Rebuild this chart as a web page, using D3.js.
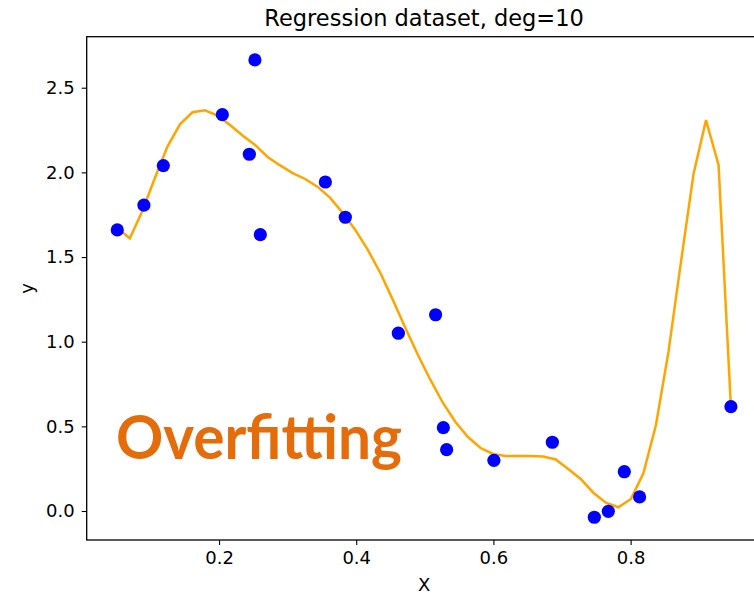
<!DOCTYPE html>
<html>
<head>
<meta charset="utf-8">
<script src="https://cdn.jsdelivr.net/npm/d3@7/dist/d3.min.js"></script>
<style>
  html, body { margin: 0; padding: 0; background: #fff; overflow: hidden; }
  svg { display: block; font-family: "DejaVu Sans", sans-serif; }
</style>
</head>
<body>
<svg id="chart" width="754" height="596"></svg>
<script>
// Sample points of the regression dataset
const pointX = [0.0517, 0.0905, 0.1188, 0.2048, 0.2523, 0.2442, 0.2602, 0.3550, 0.3841, 0.4614,
                0.5157, 0.5270, 0.5318, 0.6007, 0.6859, 0.7471, 0.7675, 0.7908, 0.8131, 0.9462];
const pointY = [1.660, 1.807, 2.040, 2.341, 2.664, 2.107, 1.632, 1.943, 1.735, 1.050,
                1.159, 0.492, 0.362, 0.299, 0.406, -0.037, -0.002, 0.232, 0.083, 0.616];

// Degree-10 polynomial fit, evaluated on a grid across the data range
const fitX = [0.0517, 0.0700, 0.0882, 0.1065, 0.1248, 0.1430, 0.1613, 0.1795, 0.1978, 0.2161,
              0.2343, 0.2526, 0.2708, 0.2891, 0.3074, 0.3256, 0.3439, 0.3621, 0.3804, 0.3987,
              0.4169, 0.4352, 0.4534, 0.4717, 0.4900, 0.5082, 0.5265, 0.5447, 0.5630, 0.5813,
              0.5995, 0.6178, 0.6360, 0.6543, 0.6726, 0.6908, 0.7091, 0.7273, 0.7456, 0.7639,
              0.7821, 0.8004, 0.8186, 0.8369, 0.8552, 0.8734, 0.8917, 0.9099, 0.9282, 0.9462];
const fitY = [1.670, 1.611, 1.772, 1.967, 2.152, 2.284, 2.355, 2.367, 2.335, 2.280,
              2.218, 2.162, 2.091, 2.041, 1.996, 1.961, 1.914, 1.849, 1.760, 1.660,
              1.542, 1.406, 1.247, 1.081, 0.921, 0.774, 0.638, 0.526, 0.437, 0.372,
              0.337, 0.325, 0.325, 0.325, 0.322, 0.304, 0.248, 0.189, 0.108, 0.049,
              0.022, 0.071, 0.223, 0.508, 0.941, 1.471, 1.991, 2.309, 2.044, 0.616];

const xTicks = [0.2, 0.4, 0.6, 0.8];
const yTicks = [0.0, 0.5, 1.0, 1.5, 2.0, 2.5];

const titleText = "Regression dataset, deg=10";
const xLabel = "X";
const yLabel = "y";
const noteText = "Overfitting";

const svg = d3.select("#chart");
const plot = { left: 86.7, right: 761.5, top: 36.7, bottom: 540 };

const x = d3.scaleLinear().domain([0.0071, 0.9908]).range([plot.left, plot.right]);
const y = d3.scaleLinear().domain([-0.1713, 2.8013]).range([plot.bottom, plot.top]);

svg.append("defs").append("clipPath").attr("id", "plotClip")
  .append("rect")
  .attr("x", plot.left).attr("y", plot.top)
  .attr("width", plot.right - plot.left).attr("height", plot.bottom - plot.top);

// Fitted curve
const line = d3.line().x((d, i) => x(fitX[i])).y((d, i) => y(fitY[i]));
svg.append("path")
  .datum(fitY)
  .attr("clip-path", "url(#plotClip)")
  .attr("d", line)
  .attr("fill", "none")
  .attr("stroke", "#ffa500")
  .attr("stroke-width", 2.5)
  .attr("stroke-linejoin", "miter");

// Data points
svg.append("g").attr("clip-path", "url(#plotClip)")
  .selectAll("circle")
  .data(pointX)
  .join("circle")
  .attr("cx", d => x(d))
  .attr("cy", (d, i) => y(pointY[i]))
  .attr("r", 6.6)
  .attr("fill", "#0000ff");

// Axes
const xAxis = d3.axisBottom(x).tickValues(xTicks).tickFormat(d3.format(".1f"))
  .tickSize(5).tickPadding(6);
const yAxis = d3.axisLeft(y).tickValues(yTicks).tickFormat(d3.format(".1f"))
  .tickSize(5).tickPadding(7);

const gx = svg.append("g").attr("transform", `translate(0,${plot.bottom})`).call(xAxis);
const gy = svg.append("g").attr("transform", `translate(${plot.left},0)`).call(yAxis);
[gx, gy].forEach(g => {
  g.select(".domain").remove();
  g.selectAll(".tick line").attr("stroke", "#000").attr("stroke-width", 1.1);
  g.selectAll(".tick text").attr("fill", "#000")
    .style("font-family", "'DejaVu Sans', sans-serif").style("font-size", "18px");
});

// Frame
svg.append("rect")
  .attr("x", plot.left).attr("y", plot.top)
  .attr("width", plot.right - plot.left).attr("height", plot.bottom - plot.top)
  .attr("fill", "none").attr("stroke", "#000").attr("stroke-width", 1.3);

// Title and axis labels
svg.append("text")
  .attr("x", (plot.left + plot.right) / 2).attr("y", 26)
  .attr("text-anchor", "middle")
  .style("font-size", "22.5px")
  .text(titleText);

svg.append("text")
  .attr("x", (plot.left + plot.right) / 2).attr("y", 591)
  .attr("text-anchor", "middle")
  .style("font-size", "18px")
  .text(xLabel);

svg.append("text")
  .attr("transform", `translate(33,${(plot.top + plot.bottom) / 2}) rotate(-90)`)
  .attr("text-anchor", "middle")
  .style("font-size", "18px")
  .text(yLabel);

// Annotation
svg.append("text")
  .attr("x", 116).attr("y", 459)
  .attr("textLength", 286)
  .attr("lengthAdjust", "spacingAndGlyphs")
  .style("font-family", "Lato, 'Open Sans', sans-serif")
  .style("font-weight", "700")
  .style("font-size", "61px")
  .attr("fill", "#e46c0a")
  .text(noteText);
</script>
</body>
</html>
